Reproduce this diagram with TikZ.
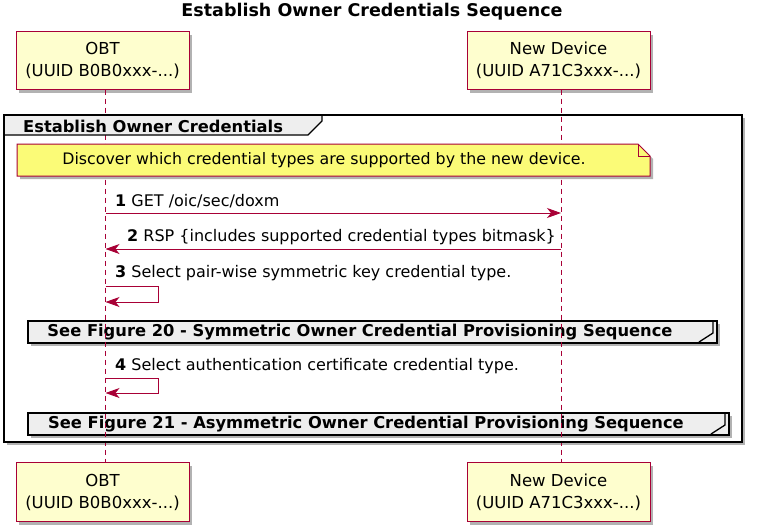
\documentclass[tikz,border=0pt]{standalone}
\usepackage{fontspec}
\setmainfont{DejaVu Sans}
\usetikzlibrary{arrows.meta,shadows}
\definecolor{umlred}{HTML}{A80036}
\definecolor{partfill}{HTML}{FEFECE}
\definecolor{notefill}{HTML}{FBFB77}
\definecolor{tabfill}{HTML}{EEEEEE}
\tikzset{
  shad/.style={drop shadow={shadow xshift=3pt,shadow yshift=-3pt,opacity=0.3,fill=black}},
  part/.style={draw=umlred,fill=partfill,line width=1pt,shad,align=center,inner sep=0pt,
    font=\fontsize{16.5}{22}\selectfont},
  life/.style={draw=umlred,line width=1pt,dash pattern=on 5pt off 4pt},
  msg/.style={draw=umlred,line width=1pt,-{Stealth[length=14pt,width=10pt,inset=4pt]}},
  msglab/.style={anchor=west,inner sep=0pt,font=\fontsize{16}{18}\selectfont},
  boldlab/.style={inner sep=0pt,font=\bfseries\fontsize{16.3}{18}\selectfont},
  frame/.style={draw=black,line width=2pt},
  tabline/.style={draw=black,line width=1.3pt},
}
\begin{document}
\begin{tikzpicture}[x=1pt,y=-1pt]
\useasboundingbox (0,0) rectangle (765,531);
% title
\node[inner sep=0pt,font=\bfseries\fontsize{17.5}{20}\selectfont] (title) at (372,12) {Establish Owner Credentials Sequence};
% participants
\node[part,minimum width=173pt,minimum height=58pt] (obt) at (102.5,60.5) {OBT\\(UUID B0B0xxx-...)};
\node[part,minimum width=183pt,minimum height=58pt] (nd) at (558.5,60.5) {New Device\\(UUID A71C3xxx-...)};
\node[part,minimum width=173pt,minimum height=59pt] (obtb) at (102.5,492) {OBT\\(UUID B0B0xxx-...)};
\node[part,minimum width=183pt,minimum height=59pt] (ndb) at (558.5,492) {New Device\\(UUID A71C3xxx-...)};
% group frame
\path[frame,fill=white,shad] (4,115) rectangle (742,442);
% ref boxes
\path[frame,fill=tabfill,shad] (28,321) rectangle (717,343);
\draw[tabline] (713,321) -- (713,333) -- (699,342);
\node[boldlab] (ref1) at (360,332) {See Figure 20 - Symmetric Owner Credential Provisioning Sequence};
\path[frame,fill=tabfill,shad] (28,413) rectangle (729,435);
\draw[tabline] (725,413) -- (725,425) -- (711,434);
\node[boldlab] (ref2) at (366,424) {See Figure 21 - Asymmetric Owner Credential Provisioning Sequence};
% lifelines
\coordinate (ot) at (105.5,89.5);
\coordinate (ob) at (105.5,462);
\coordinate (nt) at (561,89.5);
\coordinate (nb) at (561,462);
\draw[life] (ot) -- (ob);
\draw[life] (nt) -- (nb);
% group tab
\draw[tabline,fill=tabfill] (4,115) -- (322,115) -- (322,121) -- (308,135) -- (4,135);
\draw[frame] (4,115) rectangle (742,442);
\node[boldlab,anchor=west] (glab) at (23,126) {Establish Owner Credentials};
% note
\path[draw=umlred,fill=notefill,line width=1pt,shad] (17,144) -- (638,144) -- (650,156) -- (650,176) -- (17,176) -- cycle;
\draw[umlred,line width=1pt] (638,144) -- (638,156) -- (650,156);
\node[inner sep=0pt,font=\fontsize{15.8}{18}\selectfont] (note) at (324,160) {Discover which credential types are supported by the new device.};
% messages
\coordinate (o1) at (105.5,213); \coordinate (n1) at (561,213);
\draw[msg] (o1) -- (n1);
\node[msglab] (l1) at (115,201) {\textbf{1} GET /oic/sec/doxm};
\coordinate (o2) at (105.5,249); \coordinate (n2) at (561,249);
\draw[msg] (n2) -- (o2);
\node[msglab] (l2) at (127,237) {\textbf{2} RSP \{includes supported credential types bitmask\}};
\coordinate (o3a) at (105.5,286); \coordinate (o3b) at (105.5,302);
\draw[msg] (o3a) -- ++(52.5,0) |- (o3b);
\node[msglab] (l3) at (115,273) {\textbf{3} Select pair-wise symmetric key credential type.};
\coordinate (o4a) at (105.5,378); \coordinate (o4b) at (105.5,393);
\draw[msg] (o4a) -- ++(52.5,0) |- (o4b);
\node[msglab] (l4) at (115,366) {\textbf{4} Select authentication certificate credential type.};
\end{tikzpicture}
\end{document}
